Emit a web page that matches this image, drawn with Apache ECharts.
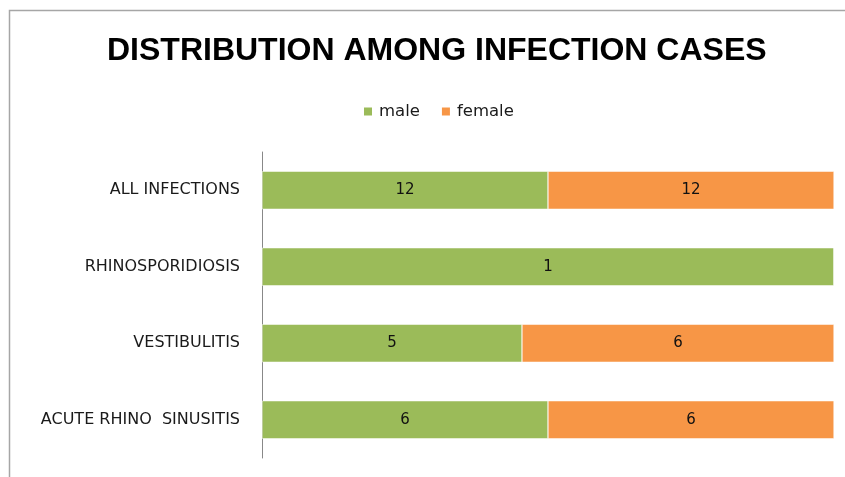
<!DOCTYPE html>
<html><head><meta charset="utf-8">
<script src="https://cdn.jsdelivr.net/npm/echarts@6/dist/echarts.min.js"></script>
<style>html,body{margin:0;padding:0;background:#fff}#c{width:845px;height:477px}</style>
</head><body><div id="c"></div>
<script>
var categories = ['ACUTE RHINO  SINUSITIS', 'VESTIBULITIS', 'RHINOSPORIDIOSIS', 'ALL INFECTIONS'];
var male = [6, 5, 1, 12];
var female = [6, 6, 0, 12];
var seriesNames = ['male', 'female'];

var totals = categories.map(function (c, i) { return male[i] + female[i]; });
function pct(arr) { return arr.map(function (v, i) { return { value: v / totals[i] * 100, raw: v }; }); }

var chart = echarts.init(document.getElementById('c'));
var lbl = {
  show: true, position: 'inside', color: '#111', fontSize: 15, fontFamily: 'DejaVu Sans, sans-serif',
  formatter: function (p) { return p.data.raw === 0 ? '' : String(p.data.raw); }
};
chart.setOption({
  animation: false,
  graphic: [{ type: 'rect', shape: { x: 9.5, y: 10.5, width: 900, height: 900 }, style: { fill: 'none', stroke: '#a6a6a6', lineWidth: 1.5 }, silent: true }],
  title: {
    text: 'DISTRIBUTION AMONG INFECTION CASES', left: 102, top: 30,
    textStyle: { fontSize: 32, fontWeight: 'bold', color: '#000', fontFamily: 'Liberation Sans, sans-serif' }
  },
  legend: {
    data: seriesNames, top: 98, left: 357, itemWidth: 10, itemHeight: 10, itemGap: 20,
    icon: 'rect',
    textStyle: { fontSize: 16.5, color: '#1a1a1a', fontFamily: 'DejaVu Sans, sans-serif', padding: [0, 0, 0, 1] }
  },
  grid: { left: 262, right: 11, top: 152, bottom: 19, containLabel: false },
  xAxis: { type: 'value', min: 0, max: 100, show: false },
  yAxis: {
    type: 'category', data: categories,
    axisLine: { show: true, lineStyle: { color: '#888', width: 1 } },
    axisTick: { show: false },
    axisLabel: { color: '#1a1a1a', fontSize: 16, margin: 22, fontFamily: 'DejaVu Sans, sans-serif' }
  },
  series: [
    { name: 'male', type: 'bar', stack: 's', barWidth: 38, data: pct(male), label: lbl,
      itemStyle: { color: '#9BBB59', borderColor: '#fff', borderWidth: 0.5 } },
    { name: 'female', type: 'bar', stack: 's', barWidth: 38, data: pct(female), label: lbl,
      itemStyle: { color: '#F79646', borderColor: '#fff', borderWidth: 0.5 } }
  ]
});
</script></body></html>
